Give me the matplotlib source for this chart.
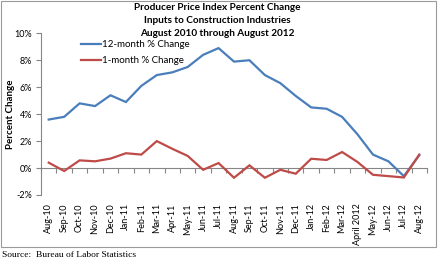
import matplotlib
matplotlib.use("Agg")
import matplotlib.pyplot as plt
from matplotlib.patches import Rectangle

months = ["Aug-10", "Sep-10", "Oct-10", "Nov-10", "Dec-10", "Jan-11", "Feb-11", "Mar-11",
          "Apr-11", "May-11", "Jun-11", "Jul-11", "Aug-11", "Sep-11", "Oct-11", "Nov-11",
          "Dec-11", "Jan-12", "Feb-12", "Mar-12", "April 2012", "May-12", "Jun-12", "Jul-12", "Aug-12"]
twelve_month = [3.6, 3.8, 4.8, 4.6, 5.4, 4.9, 6.1, 6.9, 7.1, 7.5, 8.4, 8.9, 7.9, 8.0,
                6.9, 6.3, 5.35, 4.5, 4.4, 3.8, 2.5, 1.0, 0.5, -0.6, 0.95]
one_month = [0.4, -0.22, 0.57, 0.5, 0.7, 1.1, 1.0, 2.0, 1.43, 0.9, -0.13, 0.37, -0.72, 0.2,
             -0.72, -0.13, -0.42, 0.69, 0.6, 1.19, 0.45, -0.5, -0.6, -0.7, 1.0]
y_ticks = [-2, 0, 2, 4, 6, 8, 10]
y_tick_labels = ["-2%", "0%", "2%", "4%", "6%", "8%", "10%"]

plt.rcParams['font.family'] = ['Lato', 'DejaVu Sans']
W, H = 442, 264
fig = plt.figure(figsize=(W / 100, H / 100), dpi=100)
fig.patch.set_facecolor('white')

grey = '#868686'
ax = fig.add_axes([41 / W, 1 - 195 / H, (427 - 41) / W, (195 - 33.3) / H])
x = list(range(len(months)))
ax.plot(x, twelve_month, color='#4A7EBB', lw=1.6, label='12-month % Change', solid_joinstyle='miter')
ax.plot(x, one_month, color='#BE4B48', lw=1.6, label='1-month % Change', solid_joinstyle='miter')
ax.set_xlim(-0.5, len(months) - 0.5)
ax.set_ylim(-2, 10)

for s in ['top', 'right', 'bottom']:
    ax.spines[s].set_visible(False)
ax.spines['left'].set_color(grey)
ax.spines['left'].set_linewidth(0.8)
ax.set_yticks(y_ticks)
ax.set_yticklabels(y_tick_labels, fontsize=6.5)
ax.tick_params(axis='y', direction='out', length=3.5, color=grey, width=0.8, pad=3)
ax.set_xticks(x)
ax.set_xticklabels(months, rotation=90, fontsize=6.5)
ax.tick_params(axis='x', length=0, pad=6)

sec = ax.secondary_xaxis((0 - (-2)) / 12)
sec.spines['bottom'].set_color(grey)
sec.spines['bottom'].set_linewidth(0.8)
sec.set_xticks([i - 0.5 for i in range(len(months) + 1)])
sec.set_xticklabels([])
sec.tick_params(axis='x', direction='out', length=3.5, color=grey, width=0.8)

ax.set_ylabel('Percent Change', fontsize=7, fontweight='bold')
ax.yaxis.set_label_coords(-0.068, 0.5)

leg = ax.legend(loc='upper left', bbox_to_anchor=(0.085, 1.0), frameon=False, fontsize=7,
                handlelength=2.1, handletextpad=0.15, labelspacing=0.75, borderaxespad=0.3)

fig.text(217 / W, 1 - 8 / H, 'Producer Price Index Percent Change', ha='center', va='center',
         fontsize=7.2, fontweight='bold')
fig.text(217 / W, 1 - 20.7 / H, 'Inputs to Construction Industries', ha='center', va='center',
         fontsize=7.2, fontweight='bold')
fig.text(217 / W, 1 - 33.3 / H, 'August 2010 through August 2012', ha='center', va='center',
         fontsize=7.2, fontweight='bold')

fig.patches.append(Rectangle((1 / W, 1 - 247 / H), 435 / W, 246.5 / H, transform=fig.transFigure,
                             fill=False, edgecolor='#9a9a9a', lw=0.8))
fig.text(2 / W, 1 - 255 / H, 'Source:  Bureau of Labor Statistics', ha='left', va='center',
         fontsize=6.8, family=['Liberation Serif'])

fig.savefig('out.png', dpi=100, facecolor='white')
